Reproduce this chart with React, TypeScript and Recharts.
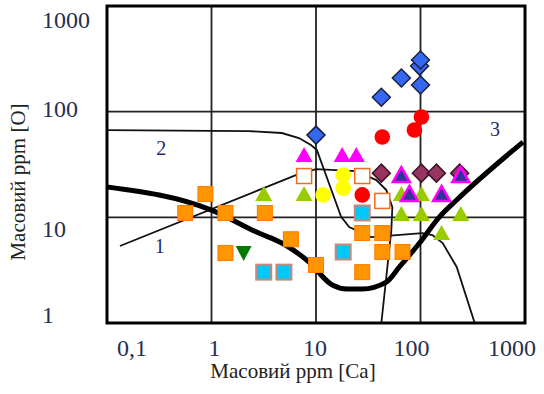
import { ScatterChart, Scatter, XAxis, YAxis, CartesianGrid, ReferenceArea, Label } from 'recharts'

type Pt = { x: number; y: number }

// axis ticks
const xTicks = [0.1, 1, 10, 100, 1000]
const yTicks = [1, 10, 100, 1000]

// boundary curves (ppm Ca, ppm O)
const thickX = [0.1, 1, 2.83, 4.71, 8.57, 14.3, 19.9, 27.7, 47.1, 62.8, 97.8, 152, 222, 956]
const thickY = [19.4, 11.7, 7.1, 5.71, 3.78, 2.29, 2.1, 2.1, 2.44, 3.39, 5.71, 10.1, 14.6, 51.6]

const curve2X = [0.1, 2.27, 4.71, 6.87, 8.95, 10.2, 13.3, 17.4, 20.8, 33.8, 104, 130, 163, 222, 330]
const curve2Y = [67, 65.5, 62.8, 56.3, 48.3, 43.3, 21, 10.1, 8.09, 6.51, 7.1, 6.8, 5.71, 3.39, 1]

const curve1X = [0.133, 6.42, 10, 24.2, 37.8, 47.1, 53.8, 52.6, 48.2, 42.2]
const curve1Y = [5.35, 25.1, 28.6, 27.4, 22.5, 18.1, 12.5, 7.59, 3.39, 1]

// measured samples
const blueX = [42.2, 10, 65.6, 100, 98, 100]
const blueY = [137, 60, 208, 179, 270, 308]

const redX = [102, 87.5, 43.1, 27.7]
const redY = [89, 67, 57.5, 16.3]

const magentaX = [7.69, 17.8, 24.3]
const magentaY = [38, 38, 38]

const purpleX = [42.2, 102, 142, 237]
const purpleY = [26.2, 26.2, 26.2, 26.2]

const navyTriX = [65.6, 78.3, 159, 243]
const navyTriY = [24.6, 16.3, 16.3, 24.6]

const openSqX = [7.69, 27.7, 43.1]
const openSqY = [24.6, 24.6, 14.3]

const yellowX = [18.2, 18.2, 11.7]
const yellowY = [25.1, 18.9, 16.3]

const greenX = [3.16, 7.69, 65.6, 102, 65.6, 102, 243, 159]
const greenY = [16.3, 16.3, 16.3, 16.3, 10.5, 10.5, 10.5, 6.95]

const downTriX = [2.03]
const downTriY = [4.6]

const cyanX = [27.7, 18.2, 3.16, 4.93]
const cyanY = [11, 4.7, 3.03, 3.03]

const orangeX = [0.875, 0.56, 1.36, 3.24, 5.75, 1.36, 10, 27.7, 43.1, 43.1, 67.3, 27.7]
const orangeY = [16.6, 11, 11, 11, 6.2, 4.6, 3.54, 7.1, 7.1, 4.7, 4.7, 3.03]

// region numbers
const regionNames = ['1', '2', '3']
const regionX = [0.32, 0.33, 515]
const regionY = [5.35, 45, 68]

const zip = (xs: number[], ys: number[]): Pt[] => xs.map((x, i) => ({ x, y: ys[i] }))

const serif = '"Liberation Serif", "Times New Roman", serif'

const square = (fill: string, stroke: string, sw = 1.5) => (p: any) => (
  <rect x={p.cx - 7.5} y={p.cy - 7.5} width={15} height={15} fill={fill} stroke={stroke} strokeWidth={sw} />
)
const diamond = (fill: string, stroke: string) => (p: any) => (
  <polygon
    points={`${p.cx},${p.cy - 9} ${p.cx + 9},${p.cy} ${p.cx},${p.cy + 9} ${p.cx - 9},${p.cy}`}
    fill={fill}
    stroke={stroke}
    strokeWidth={1.5}
  />
)
const triangle = (fill: string, stroke = 'none', sw = 0) => (p: any) => (
  <polygon
    points={`${p.cx},${p.cy - 9} ${p.cx + 8.5},${p.cy + 6} ${p.cx - 8.5},${p.cy + 6}`}
    fill={fill}
    stroke={stroke}
    strokeWidth={sw}
  />
)
const downTriangle = (fill: string) => (p: any) => (
  <polygon points={`${p.cx - 8},${p.cy - 7} ${p.cx + 8},${p.cy - 7} ${p.cx},${p.cy + 8}`} fill={fill} />
)
const circle = (fill: string) => (p: any) => <circle cx={p.cx} cy={p.cy} r={7.8} fill={fill} />
const noDot = () => <g />

const xShift: Record<number, number> = { 0.1: 25, 1: 3, 10: -1, 100: -9, 1000: -13 }
const yShift: Record<number, number> = { 1000: 14, 100: -3, 10: 12, 1: -8 }

const XTick = (props: any) => {
  const { x, y, payload } = props
  const v = payload.value
  return (
    <text x={x + (xShift[v] ?? 0)} y={y + 33} textAnchor="middle" fontSize={24} fontFamily={serif} fill="#26304f">
      {v === 0.1 ? '0,1' : String(v)}
    </text>
  )
}

const YTick = (props: any) => {
  const { y, payload } = props
  const v = payload.value
  return (
    <text x={42} y={y + (yShift[v] ?? 0) + 8} textAnchor="start" fontSize={24} fontFamily={serif} fill="#26304f">
      {String(v)}
    </text>
  )
}

export default function App() {
  const regions = regionNames.map((name, i) => ({ x: regionX[i], y: regionY[i], name }))
  return (
    <div style={{ position: 'absolute', left: 0, top: 0, background: '#fff' }}>
      <ScatterChart width={544} height={394} margin={{ top: 6, right: 19, left: 0, bottom: 0 }}>
        <CartesianGrid stroke="#222" strokeWidth={1.8} />
        <XAxis
          type="number"
          dataKey="x"
          scale="log"
          domain={[0.1, 1000]}
          ticks={xTicks}
          allowDataOverflow
          axisLine={false}
          tickLine={false}
          tickSize={0}
          tickMargin={0}
          height={71}
          tick={<XTick />}
          interval={0}
        >
          <Label
            content={() => (
              <text x={293} y={378} textAnchor="middle" fontSize={21} fontFamily={serif} fill="#222">
                Масовий ppm [Ca]
              </text>
            )}
          />
        </XAxis>
        <YAxis
          type="number"
          dataKey="y"
          scale="log"
          domain={[1, 1000]}
          ticks={yTicks}
          allowDataOverflow
          axisLine={false}
          tickLine={false}
          tickSize={0}
          tickMargin={0}
          width={107}
          tick={<YTick />}
          interval={0}
        >
          <Label
            content={() => (
              <text
                x={25}
                y={182}
                transform="rotate(-90 25 182)"
                textAnchor="middle"
                fontSize={21}
                fontFamily={serif}
                fill="#222"
              >
                Масовий ppm [O]
              </text>
            )}
          />
        </YAxis>
        <ReferenceArea x1={0.1} x2={1000} y1={1} y2={1000} fill="none" stroke="#000" strokeWidth={3} />

        <Scatter data={zip(curve2X, curve2Y)} line={{ stroke: '#111', strokeWidth: 1.8 }} lineJointType="linear" shape={noDot} isAnimationActive={false} />
        <Scatter data={zip(curve1X, curve1Y)} line={{ stroke: '#111', strokeWidth: 1.8 }} lineJointType="linear" shape={noDot} isAnimationActive={false} />
        <Scatter data={zip(thickX, thickY)} line={{ stroke: '#000', strokeWidth: 5 }} lineJointType="monotoneX" shape={noDot} isAnimationActive={false} />

        <Scatter data={zip(orangeX, orangeY)} shape={square('#ff9500', '#ff7a00', 1)} isAnimationActive={false} />
        <Scatter data={zip(cyanX, cyanY)} shape={square('#00c8f8', '#c8887a', 2)} isAnimationActive={false} />
        <Scatter data={zip(openSqX, openSqY)} shape={square('#fff', '#f36b1c', 1.5)} isAnimationActive={false} />
        <Scatter data={zip(downTriX, downTriY)} shape={downTriangle('#007a00')} isAnimationActive={false} />
        <Scatter data={zip(greenX, greenY)} shape={triangle('#99cc00')} isAnimationActive={false} />
        <Scatter data={zip(yellowX, yellowY)} shape={circle('#ffff00')} isAnimationActive={false} />
        <Scatter data={zip(magentaX, magentaY)} shape={triangle('#ff00ff')} isAnimationActive={false} />
        <Scatter data={zip(purpleX, purpleY)} shape={diamond('#963462', '#3d1428')} isAnimationActive={false} />
        <Scatter data={zip(navyTriX, navyTriY)} shape={triangle('#333399', '#ff00ff', 2.5)} isAnimationActive={false} />
        <Scatter data={zip(redX, redY)} shape={circle('#ff0000')} isAnimationActive={false} />
        <Scatter data={zip(blueX, blueY)} shape={diamond('#3568f0', '#1a2040')} isAnimationActive={false} />

        <Scatter
          data={regions}
          isAnimationActive={false}
          shape={(p: any) => (
            <text x={p.cx} y={p.cy + 7} textAnchor="middle" fontSize={20} fontFamily={serif} fill="#1f2a6b">
              {p.payload?.name ?? p.name}
            </text>
          )}
        />
      </ScatterChart>
    </div>
  )
}
